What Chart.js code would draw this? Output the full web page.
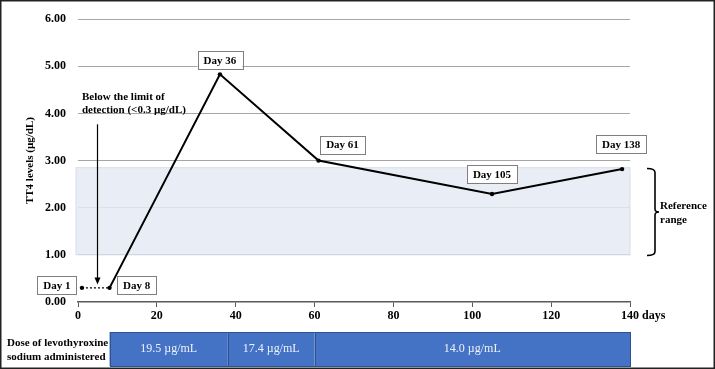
<!DOCTYPE html>
<html>
<head>
<meta charset="utf-8">
<script src="https://cdn.jsdelivr.net/npm/chart.js@4.4.1/dist/chart.umd.min.js"></script>
<style>
  html, body { margin: 0; padding: 0; background: #fff; }
  canvas { display: block; }
</style>
</head>
<body>
<canvas id="grafico" width="715" height="369"></canvas>
<script>
// dados
const dias = [1, 8, 36, 61, 105, 138];
const tt4 = [0.3, 0.3, 4.83, 3.0, 2.29, 2.82];
const rotulosDias = dias.map(d => "Day " + d);
const faixaReferencia = [1.0, 2.85];
const ticksX = [0, 20, 40, 60, 80, 100, 120, 140];
const ticksY = [0, 1, 2, 3, 4, 5, 6];
const doseInicio = [8, 38, 60];
const doseFim = [38, 60, 140];
const doseTexto = ["19.5 \u00b5g/mL", "17.4 \u00b5g/mL", "14.0 \u00b5g/mL"];
const limiteDeteccao = { dia: 4.8, topo: 3.77, base: 0.37 };

const serif = "'Liberation Serif', 'Times New Roman', serif";

// deslocamento das caixas "Day n" em relacao ao ponto
const deslocRotulos = [[-25, -3], [27, -3], [0, -14], [24, -16], [0, -20], [-1, -25]];

const extras = {
    id: "extras",
    beforeDatasetsDraw(chart) {
        const { ctx, chartArea, scales: { x, y } } = chart;
        const y1 = y.getPixelForValue(faixaReferencia[1]);
        const y0 = y.getPixelForValue(faixaReferencia[0]);
        ctx.save();
        ctx.fillStyle = "rgba(229,234,244,0.85)";
        ctx.fillRect(chartArea.left - 2, y1, chartArea.right - chartArea.left + 2, y0 - y1);
        ctx.strokeStyle = "rgba(205,211,224,0.7)";
        ctx.lineWidth = 1;
        ctx.strokeRect(chartArea.left - 2, y1, chartArea.right - chartArea.left + 2, y0 - y1);
        ctx.restore();
    },
    afterDatasetsDraw(chart) {
        const { ctx, chartArea, scales: { x, y } } = chart;
        ctx.save();

        // caixas Day n
        ctx.font = "bold 11px " + serif;
        ctx.textAlign = "center";
        ctx.textBaseline = "middle";
        dias.forEach((d, i) => {
            const px = x.getPixelForValue(d) + deslocRotulos[i][0];
            const py = y.getPixelForValue(tt4[i]) + deslocRotulos[i][1];
            const w = ctx.measureText(rotulosDias[i]).width + 12;
            const h = 18;
            ctx.fillStyle = "#fff";
            ctx.fillRect(px - w / 2, py - h / 2, w, h);
            ctx.strokeStyle = "#7f7f7f";
            ctx.lineWidth = 1;
            ctx.strokeRect(Math.round(px - w / 2) + 0.5, Math.round(py - h / 2) + 0.5, Math.round(w), h);
            ctx.fillStyle = "#000";
            ctx.fillText(rotulosDias[i], px, py + 1);
        });

        // seta do limite de deteccao
        const ax = Math.round(x.getPixelForValue(limiteDeteccao.dia)) + 0.5;
        const aTopo = y.getPixelForValue(limiteDeteccao.topo);
        const aBase = y.getPixelForValue(limiteDeteccao.base);
        ctx.strokeStyle = "#000";
        ctx.lineWidth = 1.2;
        ctx.beginPath();
        ctx.moveTo(ax, aTopo);
        ctx.lineTo(ax, aBase - 5);
        ctx.stroke();
        ctx.fillStyle = "#000";
        ctx.beginPath();
        ctx.moveTo(ax, aBase);
        ctx.lineTo(ax - 3, aBase - 7);
        ctx.lineTo(ax + 3, aBase - 7);
        ctx.closePath();
        ctx.fill();

        ctx.font = "bold 11px " + serif;
        ctx.textAlign = "left";
        ctx.textBaseline = "middle";
        const tx = x.getPixelForValue(1);
        ctx.fillText("Below the limit of", tx, aTopo - 27);
        ctx.fillText("detection (<0.3 \u00b5g/dL)", tx, aTopo - 14);

        // chave da faixa de referencia
        const bTopo = Math.round(y.getPixelForValue(faixaReferencia[1])) + 0.5;
        const bBase = Math.round(y.getPixelForValue(faixaReferencia[0])) + 0.5;
        const bMeio = (bTopo + bBase) / 2;
        const bx = chartArea.right + 25;
        ctx.lineWidth = 1.6;
        ctx.beginPath();
        ctx.moveTo(bx - 8, bTopo);
        ctx.quadraticCurveTo(bx, bTopo, bx, bTopo + 4);
        ctx.lineTo(bx, bMeio - 3);
        ctx.quadraticCurveTo(bx, bMeio, bx + 4, bMeio);
        ctx.quadraticCurveTo(bx, bMeio, bx, bMeio + 3);
        ctx.lineTo(bx, bBase - 4);
        ctx.quadraticCurveTo(bx, bBase, bx - 8, bBase);
        ctx.stroke();
        ctx.fillText("Reference", bx + 5, bMeio - 6);
        ctx.fillText("range", bx + 5, bMeio + 8);

        ctx.restore();
    },
    afterDraw(chart) {
        const { ctx, chartArea, scales: { x } } = chart;
        ctx.save();

        // rotulo "days"
        ctx.font = "bold 12px " + serif;
        ctx.fillStyle = "#000";
        ctx.textAlign = "left";
        ctx.textBaseline = "middle";
        ctx.fillText("days", chartArea.right + 12, 316);

        // barra de dose
        const top = 332, alt = 34;
        doseInicio.forEach((ini, i) => {
            const x0 = x.getPixelForValue(ini);
            const x1 = x.getPixelForValue(doseFim[i]);
            ctx.fillStyle = "#4472c4";
            ctx.fillRect(x0, top, x1 - x0, alt);
            ctx.strokeStyle = "#2f528f";
            ctx.lineWidth = 1;
            ctx.strokeRect(Math.round(x0) + 0.5, top + 0.5, Math.round(x1 - x0), alt);
            ctx.fillStyle = "#eef2fa";
            ctx.font = "12px " + serif;
            ctx.textAlign = "center";
            ctx.fillText(doseTexto[i], (x0 + x1) / 2, top + alt / 2);
        });
        ctx.fillStyle = "#000";
        ctx.font = "bold 11px " + serif;
        ctx.textAlign = "left";
        ctx.fillText("Dose of levothyroxine", 7, 343);
        ctx.fillText("sodium administered", 7, 357);

        // moldura
        ctx.strokeStyle = "#222";
        ctx.lineWidth = 1.5;
        ctx.strokeRect(0.75, 0.75, chart.width - 1.5, chart.height - 1.5);
        ctx.restore();
    }
};

const ctx = document.getElementById("grafico").getContext("2d");
let grafico = new Chart(ctx, {
    type: "line",
    data: {
        datasets: [{
            data: dias.map((d, i) => ({ x: d, y: tt4[i] })),
            borderColor: "#000",
            backgroundColor: "#000",
            borderWidth: 2,
            pointRadius: 2.2,
            pointBackgroundColor: "#000",
            pointBorderWidth: 0,
            tension: 0,
            segment: {
                borderDash: c => c.p0DataIndex === 0 ? [2, 2] : undefined,
                borderWidth: c => c.p0DataIndex === 0 ? 1.4 : 2
            }
        }]
    },
    options: {
        responsive: false,
        animation: false,
        layout: { padding: { left: 0, top: 15, right: 85, bottom: 37 } },
        plugins: { legend: { display: false }, tooltip: { enabled: false } },
        scales: {
            x: {
                type: "linear",
                min: 0, max: 140,
                afterBuildTicks: s => { s.ticks = ticksX.map(v => ({ value: v })); },
                afterFit: s => { s.height = 30; },
                grid: { drawOnChartArea: false, drawTicks: true, tickLength: 5, color: "#595959" },
                border: { display: true, color: "#595959", width: 1.5 },
                ticks: { color: "#000", padding: 2, font: { family: serif, size: 12, weight: "bold" } }
            },
            y: {
                min: 0, max: 6,
                afterBuildTicks: s => { s.ticks = ticksY.map(v => ({ value: v })); },
                afterFit: s => { s.width = 78; },
                grid: { drawTicks: false, color: c => c.tick.value === 0 ? "rgba(0,0,0,0)" : "#a6a6a6", lineWidth: 1 },
                border: { display: false },
                ticks: {
                    color: "#000", padding: 12,
                    font: { family: serif, size: 12, weight: "bold" },
                    callback: v => Number(v).toFixed(2)
                },
                title: {
                    display: true,
                    text: "TT4 levels (\u00b5g/dL)",
                    color: "#000",
                    font: { family: serif, size: 11, weight: "bold" },
                    padding: { top: 24, bottom: 0 }
                }
            }
        }
    },
    plugins: [extras]
});
</script>
</body>
</html>
